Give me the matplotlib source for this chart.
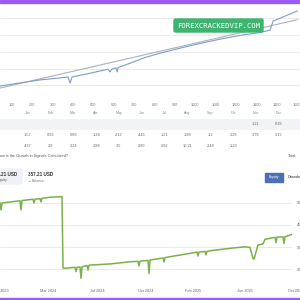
import matplotlib
matplotlib.use("Agg")
import matplotlib.pyplot as plt
from matplotlib.patches import Rectangle, FancyBboxPatch

plt.rcParams["font.family"] = ["Liberation Sans", "DejaVu Sans"]

# --- top chart: growth by trade number ---
trade_ticks = [100, 200, 300, 400, 500, 600, 700, 800, 900, 1000, 1100, 1200, 1300, 1400, 1500]
growth_trades = [0, 139, 237, 336, 375, 385, 395, 483, 571, 581, 591, 611, 616, 621, 680, 753,
                 827, 925, 1023, 1122, 1220, 1318, 1367, 1382, 1441, 1465, 1500]
growth_vals = [-6, 7, 16, 22, 25, 7, 25, 36, 48, 40, 49, 52, 40, 53, 66, 83,
               96, 111, 125, 138, 149, 158, 165, 192, 207, 213, 222]
trend_trades = [0, 300, 600, 900, 1200, 1500]
trend_vals = [-14, 28, 70, 112, 154, 196]

# --- monthly gain table ---
months = ["Jan", "Feb", "Mar", "Apr", "May", "Jun", "Jul", "Aug", "Sep", "Oct", "Nov", "Dec"]
gain_2023 = [None] * 10 + [1.21, 8.39]
gain_2024 = [1.57, 0.93, 0.89, 1.24, 2.12, 4.45, 1.21, 1.89, 1.2, 2.29, 3.79, 3.15]
gain_2025 = [4.37, 2.9, 3.24, 2.98, 3.5, 2.89, 2.92, 10.21, 2.48, 1.23, None, None]

# --- equity chart (x = trading-day index) ---
eq_idx = [0, 2, 4, 40, 42, 44, 66, 68, 70, 80, 82, 84, 100, 124, 126, 130, 150, 152, 154,
          160, 162, 164, 174, 176, 178, 180, 220, 260, 276, 278, 280, 290, 296, 298, 300,
          326, 328, 330, 340, 380, 394, 396, 398, 410, 412, 414, 420, 460, 490, 500, 506,
          508, 512, 516, 526, 530, 550, 552, 554, 566, 568, 570, 584]
eq_vals = [500, 468, 500, 510, 468, 511, 517, 500, 517, 520, 505, 521, 526, 529, 205, 203,
           208, 188, 208, 209, 158, 210, 216, 195, 217, 218, 223, 233, 235, 214, 236, 238,
           239, 180, 241, 250, 232, 252, 256, 271, 277, 259, 277, 280, 264, 280, 283, 294,
           301, 298, 249, 245, 277, 309, 314, 335, 344, 320, 345, 346, 317, 347, 357]
date_ticks = [0, 96, 194, 292, 386, 490]
date_labels = ["Nov 2023", "Mar 2024", "Jul 2024", "Oct 2024", "Feb 2025", "Jun 2025"]
eq_ticks = [200, 300, 400, 500]

W = H = 300
fig = plt.figure(figsize=(3, 3), dpi=100, facecolor="white")


def px_axes(x0, y0, x1, y1):
    return fig.add_axes([x0 / W, 1 - y1 / H, (x1 - x0) / W, (y1 - y0) / H])


def ftext(x, y, s, **kw):
    fig.text(x / W, 1 - y / H, s, **kw)


# top chart
ax1 = px_axes(0, 3, 300, 100)
ax1.plot(trend_trades, trend_vals, color="#aab2bd", lw=0.8)
ax1.plot(growth_trades, growth_vals, color="#7f9ccc", lw=0.8)
ax1.set_xlim(41, 1514)
ax1.set_ylim(-44, 246)
ax1.set_yticks([0, 50, 100, 150, 200])
ax1.set_xticks(trade_ticks)
ax1.set_xticklabels([str(t) for t in trade_ticks])
ax1.tick_params(length=0, labelleft=False, labelsize=2.7, labelcolor="#777777", pad=2)
ax1.grid(axis="y", color="#e8e8e8", lw=0.6)
for s in ax1.spines.values():
    s.set_visible(False)

fig.patches.append(FancyBboxPatch((174 / W, 1 - 32 / H), 89 / W, 13 / H,
                                  boxstyle="round,pad=0,rounding_size=0.005",
                                  transform=fig.transFigure, color="#3db56e", zorder=5))
ftext(218.5, 25.5, "FOREXCRACKEDVIP.COM", family="DejaVu Sans Mono", fontsize=5.2,
      color="white", ha="center", va="center", zorder=6)

# table
axt = px_axes(0, 107.5, 300, 151.5)
axt.set_xlim(-1.2035, 11.926)
axt.set_ylim(3.5, -0.5)
axt.axis("off")
axt.axhspan(0.5, 1.5, color="#f1f3f7", lw=0)
for i, m in enumerate(months):
    axt.text(i, 0, m, fontsize=2.6, color="#888888", ha="center", va="center")
for r, row in enumerate([gain_2023, gain_2024, gain_2025], start=1):
    for i, v in enumerate(row):
        if v is not None:
            axt.text(i, r, f"{v:g}", fontsize=2.8, color="#666666", ha="center", va="center")

ftext(-3, 156.5, "How is the Growth in Signals Calculated?", fontsize=2.8, color="#555555",
      va="center")
ftext(288, 156.5, "Total:", fontsize=2.8, color="#555555", va="center")

# equity / balance summary
fig.patches.append(FancyBboxPatch((-5 / W, 1 - 184 / H), 27 / W, 15 / H,
                                  boxstyle="round,pad=0,rounding_size=0.006",
                                  transform=fig.transFigure, color="#eef1f5"))
ftext(17, 175, "357.21 USD", fontsize=3.3, weight="bold", color="#333333", ha="right", va="center")
ftext(-2.5, 180.5, "Equity", fontsize=2.5, color="#555555", va="center")
ftext(28, 175, "357.21 USD", fontsize=3.3, weight="bold", color="#333333", va="center")
ftext(29, 180.5, "\u25cf", fontsize=1.8, color="#4f6fb3", va="center")
ftext(31.5, 180.5, "Balance", fontsize=2.5, color="#777777", va="center")

fig.patches.append(Rectangle((265 / W, 1 - 181.5 / H), 18 / W, 9 / H,
                             transform=fig.transFigure, color="#4f6fb3"))
ftext(274, 177, "Equity", fontsize=2.7, color="white", ha="center", va="center")
ftext(288, 177, "Drawdown", fontsize=2.8, color="#333333", va="center")

# equity chart
ax3 = px_axes(0, 188, 292, 284)
ax3.plot(eq_idx, eq_vals, color="#78b14a", lw=1.1)
ax3.set_xlim(0, 584)
ax3.set_ylim(132, 568)
ax3.set_yticks(eq_ticks)
ax3.yaxis.tick_right()
ax3.set_xticks(date_ticks)
ax3.set_xticklabels(date_labels)
ax3.tick_params(length=0, labelsize=2.8, labelcolor="#666666", pad=3.5)
ax3.text(592, -0.07, "Oct 2025", transform=ax3.get_xaxis_transform(), fontsize=2.8,
         color="#666666", ha="center", va="center", clip_on=False)
ax3.grid(axis="y", color="#e8e8e8", lw=0.6)
for s in ax3.spines.values():
    s.set_visible(False)

# purple page bars
fig.patches.append(Rectangle((0, 1 - 3 / H), 1, 3 / H, transform=fig.transFigure,
                             color="#9c5cf0", zorder=10))
fig.patches.append(Rectangle((0, 0), 1, 2.5 / H, transform=fig.transFigure,
                             color="#9c5cf0", zorder=10))

fig.savefig("out.png", dpi=100, facecolor="white")
